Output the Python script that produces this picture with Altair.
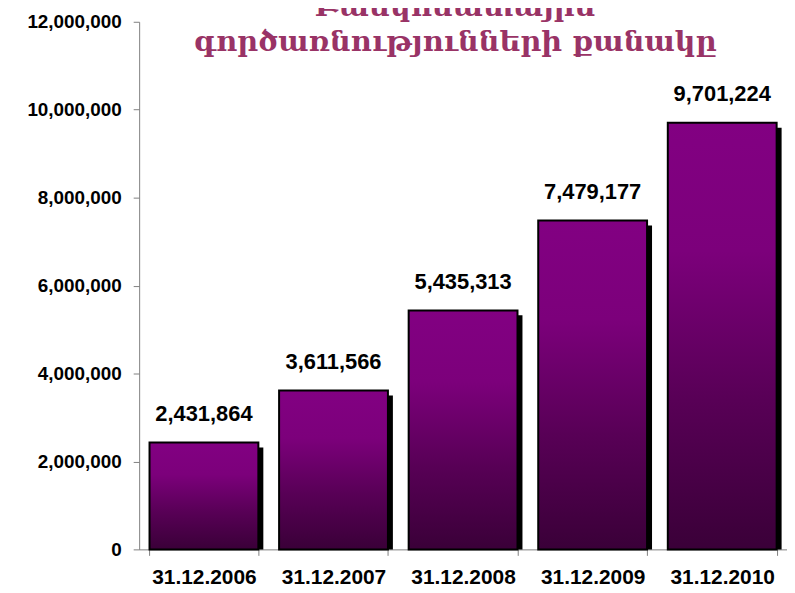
import altair as alt
import pandas as pd

dates = ["31.12.2006", "31.12.2007", "31.12.2008", "31.12.2009", "31.12.2010"]
values = [2431864, 3611566, 5435313, 7479177, 9701224]
y_ticks = [0, 2000000, 4000000, 6000000, 8000000, 10000000, 12000000]
title_lines = ["Բանկոմատային", "գործառնությունների քանակը"]

df = pd.DataFrame({"date": dates, "value": values})

x_enc = alt.X(
    "date:N",
    sort=dates,
    scale=alt.Scale(paddingInner=0.16, paddingOuter=0.08),
    axis=alt.Axis(
        title=None,
        labelAngle=0,
        labelFont="Liberation Sans",
        labelFontSize=21,
        labelFontWeight="bold",
        labelColor="black",
        labelPadding=11,
        tickSize=6,
        tickColor="#808080",
        domainColor="#808080",
        tickBand="extent",
    ),
)
y_enc = alt.Y(
    "value:Q",
    scale=alt.Scale(domain=[0, 12000000], nice=False),
    axis=alt.Axis(
        title=None,
        values=y_ticks,
        format=",d",
        grid=False,
        labelFont="Liberation Sans",
        labelFontSize=19,
        labelFontWeight="bold",
        labelColor="black",
        labelPadding=12,
        tickSize=6,
        tickColor="#808080",
        domainColor="#808080",
    ),
)

base = alt.Chart(df)

shadow = base.mark_bar(color="black", xOffset=5, yOffset=5, clip=True).encode(x=x_enc, y=y_enc)

bars = base.mark_bar(
    color=alt.Gradient(
        gradient="linear",
        x1=0, y1=0, x2=0, y2=1,
        stops=[
            alt.GradientStop(color="#820082", offset=0),
            alt.GradientStop(color="#7c007b", offset=0.3),
            alt.GradientStop(color="#580056", offset=0.65),
            alt.GradientStop(color="#3a0038", offset=1),
        ],
    ),
    stroke="black",
    strokeWidth=2,
).encode(x=x_enc, y=y_enc)

labels = base.mark_text(
    font="Liberation Sans",
    fontSize=22,
    fontWeight="bold",
    color="black",
    baseline="alphabetic",
    dy=-22,
).encode(x=x_enc, y=y_enc, text=alt.Text("value:Q", format=",d"))

title1 = alt.Chart(alt.Data(values=[{"t": title_lines[0]}])).mark_text(
    font="DejaVu Serif", fontSize=29, fontWeight="bold", color="#993366",
    align="center", baseline="alphabetic"
).encode(text="t:N", x=alt.value(318), y=alt.value(-6))

title2 = alt.Chart(alt.Data(values=[{"t": title_lines[1]}])).mark_text(
    font="DejaVu Serif", fontSize=29, fontWeight="bold", color="#993366",
    align="center", baseline="alphabetic"
).encode(text="t:N", x=alt.value(318), y=alt.value(29))

chart = alt.layer(shadow, bars, labels, title1, title2).properties(
    width=652,
    height=531,
    autosize=alt.AutoSizeParams(type="none"),
    padding={"left": 132, "top": 12, "right": 0, "bottom": 36},
).configure_view(stroke=None)

chart.save("out.html", embed_options={"renderer": "svg", "actions": False})
